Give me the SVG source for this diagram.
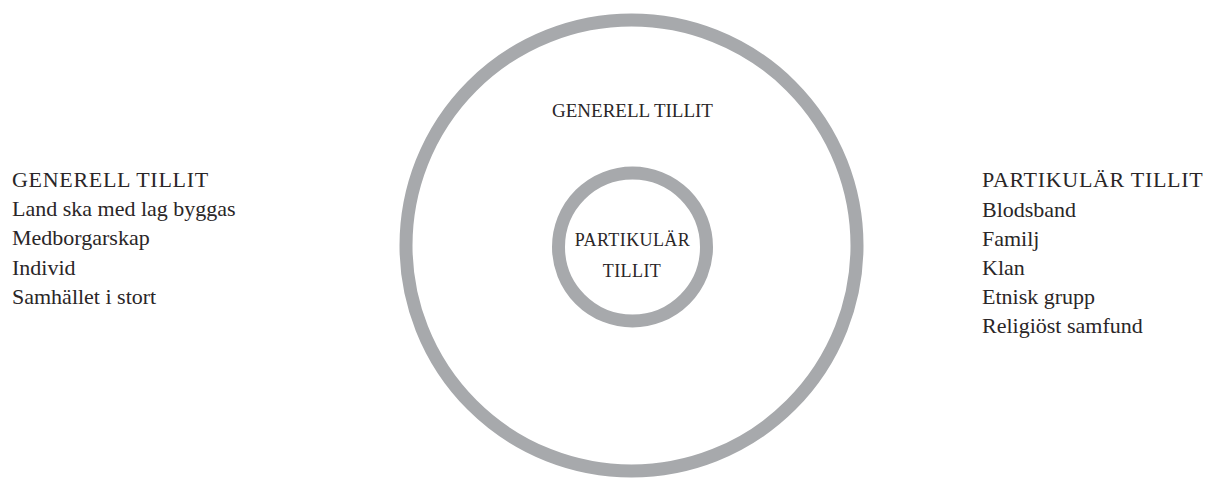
<svg xmlns="http://www.w3.org/2000/svg" width="1206" height="478" viewBox="0 0 1206 478">
<style>
.ring{fill:none;stroke:#a7a9ac;stroke-width:13}
text{font-family:'Liberation Serif','DejaVu Serif',serif;fill:#2a2627}
.side{font-size:22px}
.caps{letter-spacing:0.7px}
.mid{font-size:19px;text-anchor:middle}
.inner{font-size:18px;text-anchor:middle;letter-spacing:0.4px}
</style>
<rect width="1206" height="478" fill="#ffffff"/>
<g id="outer-circle">
<circle class="ring" cx="631.5" cy="245.5" r="225.5"/>
<text class="mid" x="632.5" y="117">GENERELL TILLIT</text>
</g>
<g id="inner-circle">
<circle class="ring" cx="632.5" cy="247" r="74"/>
<text class="inner" x="632.5" y="246">PARTIKULÄR</text>
<text class="inner" x="632" y="277">TILLIT</text>
</g>
<g id="left-list">
<text class="side caps" x="12" y="187">GENERELL TILLIT</text>
<text class="side" x="12" y="216">Land ska med lag byggas</text>
<text class="side" x="12" y="245">Medborgarskap</text>
<text class="side" x="12" y="275">Individ</text>
<text class="side" x="12" y="304">Samhället i stort</text>
</g>
<g id="right-list">
<text class="side caps" x="982" y="187">PARTIKULÄR TILLIT</text>
<text class="side" x="982" y="217">Blodsband</text>
<text class="side" x="982" y="246">Familj</text>
<text class="side" x="982" y="275">Klan</text>
<text class="side" x="982" y="304">Etnisk grupp</text>
<text class="side" x="982" y="333">Religiöst samfund</text>
</g>
<g id="connectors"></g>
</svg>
